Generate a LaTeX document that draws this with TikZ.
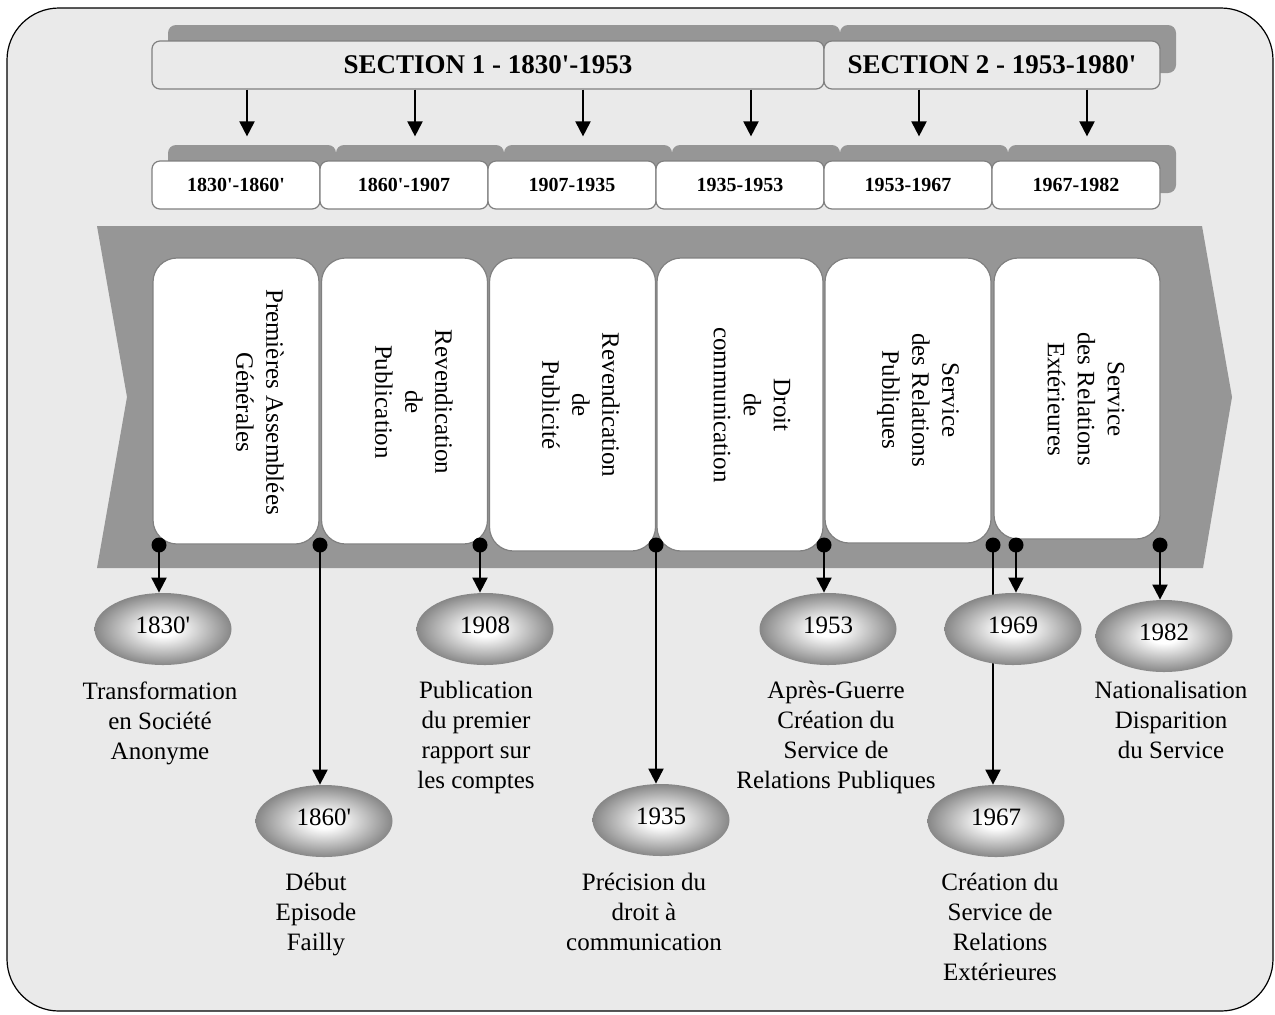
\documentclass[tikz,border=0pt]{standalone}
\usepackage{fontspec}
\setmainfont{Liberation Serif}
\usepackage{xcolor}
\usetikzlibrary{shapes.geometric,arrows.meta,calc}

\definecolor{panel}{RGB}{234,234,234}
\definecolor{band}{RGB}{150,150,150}
\definecolor{edge}{RGB}{128,128,128}
\definecolor{eggrim}{RGB}{135,135,135}
\pgfdeclareradialshading{yearshade}{\pgfpoint{0bp}{0bp}}{color(0bp)=(white); color(5bp)=(white); color(25bp)=(eggrim); color(50bp)=(eggrim)}
\pgfdeclarelayer{bg}
\pgfdeclarelayer{wires}
\pgfsetlayers{bg,wires,main}
\newcommand{\yq}{\textquotesingle}
\newcommand{\bodyfont}{\fontsize{12.5}{15}\selectfont}

\begin{document}
\begin{tikzpicture}[x=0.5pt, y=-0.5pt,
  hdr/.style={draw=edge, fill=panel, line width=0.6pt, rounded corners=4pt, minimum height=24pt, inner sep=0pt, font=\fontsize{13.5}{16}\selectfont\bfseries},
  hdrshadow/.style={fill=band, rounded corners=4pt, minimum height=24pt, inner sep=0pt},
  per/.style={draw=edge, fill=white, line width=0.6pt, rounded corners=4pt, minimum width=84pt, minimum height=24pt, inner sep=0pt, font=\fontsize{10}{12}\selectfont\bfseries},
  pershadow/.style={fill=band, rounded corners=4pt, minimum width=84pt, minimum height=24pt, inner sep=0pt},
  stage/.style={draw=edge, fill=white, line width=0.6pt, rounded corners=12pt, minimum width=83pt, inner sep=0pt},
  stagetxt/.style={rotate=-90, align=center, inner sep=0pt, font=\bodyfont},
  dot/.style={circle, fill=black, inner sep=0pt, minimum size=7.5pt},
  year/.style={ellipse, shading=yearshade, minimum width=68.5pt, minimum height=36pt, inner sep=0pt, text depth=4pt, font=\bodyfont},
  note/.style={anchor=north, align=center, inner sep=0pt, font=\bodyfont},
  link/.style={line width=1pt, -{Triangle[width=7.5pt,length=7.5pt]}}
]
\useasboundingbox (0,0) rectangle (1275,1014);

\begin{pgfonlayer}{bg}
  % panel and timeline band
  \draw[fill=panel, line width=0.6pt, rounded corners=26pt] (7,8) rectangle (1273,1011);
  \fill[band] (97,226) -- (1202,226) -- (1232,397) -- (1203,568) -- (97,568) -- (127,397) -- cycle;

  % section headers
  \node[hdrshadow, minimum width=336pt] at (504,49) {};
  \node[hdrshadow, minimum width=168pt] at (1008,49) {};
  \node[hdr, minimum width=336pt] (sec1) at (488,65) {SECTION 1 - 1830\yq-1953};
  \node[hdr, minimum width=168pt] (sec2) at (992,65) {SECTION 2 - 1953-1980\yq};

  % periods
  \foreach \x in {236,404,572,740,908,1076}
    \node[pershadow] at (\x+16,169) {};
  \node[per] (per1) at (236,185) {1830\yq-1860\yq};
  \node[per] (per2) at (404,185) {1860\yq-1907};
  \node[per] (per3) at (572,185) {1907-1935};
  \node[per] (per4) at (740,185) {1935-1953};
  \node[per] (per5) at (908,185) {1953-1967};
  \node[per] (per6) at (1076,185) {1967-1982};

  % stages
  \node[stage, minimum height=143pt] (s1) at (236,401) {};
  \node[stage, minimum height=143pt] (s2) at (404.5,401) {};
  \node[stage, minimum height=146.5pt] (s3) at (572.5,404.5) {};
  \node[stage, minimum height=146.5pt] (s4) at (740,404.5) {};
  \node[stage, minimum height=142.5pt] (s5) at (908,400.5) {};
  \node[stage, minimum height=140.5pt] (s6) at (1077,398.5) {};
\end{pgfonlayer}

\node[stagetxt] (t1) at (260,402) {Premières Assemblées\\Générales};
\node[stagetxt] (t2) at (414,402) {Revendication\\de\\Publication};
\node[stagetxt] (t3) at (581,405) {Revendication\\de\\Publicité};
\node[stagetxt] (t4) at (752,405) {Droit\\de\\communication};
\node[stagetxt] (t5) at (918,400) {Service\\des Relations\\Publiques};
\node[stagetxt] (t6) at (1086,399) {Service\\des Relations\\Extérieures};

% events
\foreach \x [count=\i] in {159,320,480,656,824,993,1016,1160}
  \node[dot] (p\i) at (\x,545) {};

\node[year] (y1) at (163,629) {1830\yq};
\node[year] (y2) at (324,821) {1860\yq};
\node[year] (y3) at (485,629) {1908};
\node[year] (y4) at (661,820) {1935};
\node[year] (y5) at (828,629) {1953};
\node[year] (y6) at (996,821) {1967};
\node[year] (y7) at (1013,629) {1969};
\node[year] (y8) at (1164,636) {1982};

\node[note] (c1) at (160,681) {Transformation\\en Société\\Anonyme};
\node[note] (c2) at (316,873) {Début\\Episode\\Failly};
\node[note] (c3) at (476,681) {Publication\\du premier\\rapport sur\\les comptes};
\node[note] (c4) at (644,873) {Précision du\\droit à\\communication};
\node[note] (c5) at (836,681) {Après-Guerre\\Création du\\Service de\\Relations Publiques};
\node[note] (c6) at (1000,873) {Création du\\Service de\\Relations\\Extérieures};
\node[note] (c7) at (1171,681) {Nationalisation\\Disparition\\du Service};

\begin{pgfonlayer}{wires}
  \foreach \i/\s in {1/sec1,2/sec1,3/sec1,4/sec1,5/sec2,6/sec2}
    \draw[link] ([xshift=5.5pt]\s.south -| per\i.north) -- ([xshift=5.5pt,yshift=12pt]per\i.north);
  \foreach \i in {1,...,8}
    \draw[link] (p\i.center) -- (p\i |- y\i.north);
\end{pgfonlayer}
\end{tikzpicture}
\end{document}
